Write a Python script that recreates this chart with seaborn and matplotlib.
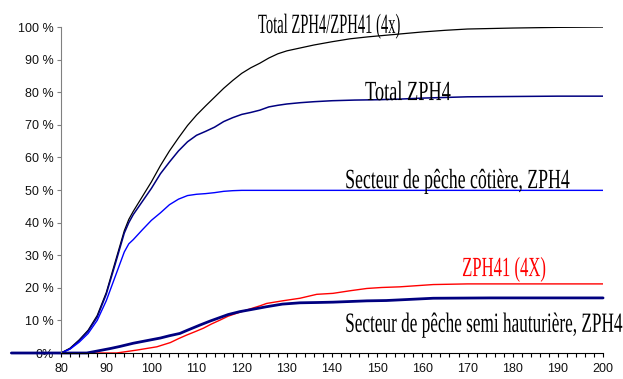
import matplotlib
matplotlib.use("Agg")
import matplotlib.pyplot as plt
import seaborn as sns
from matplotlib.patheffects import AbstractPathEffect
from matplotlib.transforms import Affine2D, Bbox
from matplotlib.ticker import MultipleLocator


# Donnees (cumul en %)
x_total = [80, 82, 84, 86, 88, 90, 92, 94, 95, 96, 98, 100, 102, 104, 106, 108, 110, 112, 114, 116,
           118, 120, 122, 124, 126, 128, 130, 133, 136, 140, 144, 148, 152, 156, 160, 165, 170, 180, 190, 200]
v_total = [0, 1.5, 4, 7, 11.5, 18.5, 28, 37.5, 41, 43.5, 48, 52.5, 57.5, 62, 66, 69.8, 73, 75.8, 78.5, 81.2,
           83.6, 85.8, 87.5, 88.9, 90.5, 91.8, 92.7, 93.6, 94.5, 95.5, 96.4, 97, 97.5, 98, 98.5, 99, 99.4, 99.7, 99.9, 100]

x_zph4 = [80, 82, 84, 86, 88, 90, 92, 94, 95, 96, 98, 100, 102, 104, 106, 108, 110, 112, 114, 116,
          118, 120, 122, 124, 126, 128, 130, 133, 136, 140, 145, 150, 155, 160, 165, 170, 180, 190, 200]
v_zph4 = [0, 1.3, 3.8, 6.7, 11, 18, 27.3, 36.8, 40, 42.5, 46.5, 50.5, 55, 58.6, 62, 64.8, 66.8, 68, 69.3, 71,
          72.2, 73.2, 73.8, 74.5, 75.5, 76, 76.4, 76.8, 77.1, 77.4, 77.6, 77.7, 77.9, 78.2, 78.4, 78.6, 78.7, 78.8, 78.8]

x_cotiere = [80, 82, 84, 86, 88, 90, 92, 94, 95, 96, 98, 100, 102, 104, 106, 108, 110, 112, 114, 116, 118, 120, 150, 200]
v_cotiere = [0, 1.2, 3.3, 6, 10, 16, 23.5, 31, 33.5, 34.8, 37.8, 40.7, 43, 45.5, 47.2, 48.3, 48.7, 48.9, 49.2, 49.6, 49.8, 49.9, 49.9, 49.9]

x_zph41 = [80, 92.3, 96.8, 101.2, 104.2, 106, 107.8, 109.6, 111.5, 113.3, 115.2, 117, 118.9, 121.8, 124.1, 125.5,
           129, 132.9, 136.6, 140.2, 144, 147.7, 151, 155, 162.4, 170, 200]
v_zph41 = [0, 0, 0.9, 1.9, 3.2, 4.4, 5.5, 6.5, 7.6, 8.9, 10.1, 11.3, 12.2, 13.5, 14.5, 15.2,
           16, 16.8, 18, 18.3, 19.1, 19.8, 20.1, 20.3, 21, 21.2, 21.2]

x_semi = [69, 80, 85.7, 88, 91, 93, 96, 99, 102, 104, 106.3, 108, 110.8, 113, 115.2, 117, 119.6, 122, 125.5,
          129, 132.9, 137, 140.2, 144, 147.7, 152, 155, 162.4, 175, 200]
v_semi = [0, 0, 0, 0.6, 1.4, 2, 3, 3.8, 4.6, 5.3, 6, 7, 8.6, 9.8, 10.9, 11.8, 12.7, 13.3, 14.2,
          15, 15.4, 15.5, 15.6, 15.8, 16, 16.1, 16.3, 16.8, 16.9, 16.9]

y_ticks = list(range(0, 101, 10))
y_labels = ["0%"] + [f"{v} %" for v in range(10, 101, 10)]
x_ticks = list(range(80, 201, 10))


# effet pour comprimer le texte horizontalement (police etroite)
class Squeeze(AbstractPathEffect):
    def __init__(self, sx):
        super().__init__()
        self.sx = sx

    def draw_path(self, renderer, gc, tpath, affine, rgbFace=None):
        m = affine.get_matrix().copy()
        m[0, 0] *= self.sx
        m[0, 1] *= self.sx
        renderer.draw_path(gc, tpath, Affine2D(m), rgbFace)


def squeezed_text(ax, x, y, s, sx, **kw):
    t = ax.text(x, y, s, path_effects=[Squeeze(sx)], **kw)
    orig = t.get_window_extent

    # la boite englobante suit la largeur comprimee
    def extent(renderer=None, dpi=None):
        bb = orig(renderer, dpi)
        return Bbox.from_extents(bb.x0, bb.y0, bb.x0 + bb.width * sx, bb.y1)
    t.get_window_extent = extent
    return t


sns.set_style("white")
plt.rcParams['font.family'] = ['Liberation Sans', 'DejaVu Sans']

fig = plt.figure(figsize=(6.23, 3.79), dpi=100)
ax = fig.add_axes([0.098, 0.0686, 0.870, 0.860])

sns.lineplot(x=x_total, y=v_total, color="black", lw=0.9, ax=ax, estimator=None, sort=False)
sns.lineplot(x=x_zph4, y=v_zph4, color="#000080", lw=1.1, ax=ax, estimator=None, sort=False)
sns.lineplot(x=x_cotiere, y=v_cotiere, color="#0000FF", lw=1.0, ax=ax, estimator=None, sort=False)
sns.lineplot(x=x_zph41, y=v_zph41, color="#FF0000", lw=1.0, ax=ax, estimator=None, sort=False)
sns.lineplot(x=x_semi, y=v_semi, color="#000080", lw=2.0, ax=ax, estimator=None, sort=False, clip_on=False)

ax.set_xlim(80, 200)
ax.set_ylim(0, 100)
ax.set_xticks(x_ticks)
ax.xaxis.set_minor_locator(MultipleLocator(2))
ax.set_yticks(y_ticks)
ax.set_yticklabels(y_labels)
ax.set_xlabel("")
ax.set_ylabel("")

for s in ["top", "right"]:
    ax.spines[s].set_visible(False)
ax.spines["left"].set_color("#808080")
ax.spines["bottom"].set_color("black")
ax.tick_params(axis="y", which="major", direction="out", length=3, width=0.8, color="#808080",
               labelsize=9, labelcolor="#111111", pad=2, left=True)
ax.tick_params(axis="x", which="both", direction="out", length=3, width=0.8, color="black",
               labelsize=9, labelcolor="#111111", pad=4, bottom=True)

lab = dict(family=["Liberation Serif", "DejaVu Serif"], fontsize=20, ha="left", va="baseline", clip_on=False)
squeezed_text(ax, 123.6, 98.2, "Total ZPH4/ZPH41 (4x)", 0.525, color="black", **lab)
squeezed_text(ax, 147.3, 77.6, "Total ZPH4", 0.66, color="black", **lab)
squeezed_text(ax, 142.9, 50.6, "Secteur de pêche côtière, ZPH4", 0.64, color="black", **lab)
squeezed_text(ax, 168.8, 23.6, "ZPH41 (4X)", 0.60, color="#FF0000", **lab)
squeezed_text(ax, 142.9, 6.5, "Secteur de pêche semi hauturière, ZPH4", 0.62, color="black", **lab)

plt.savefig("out.png", dpi=100)
